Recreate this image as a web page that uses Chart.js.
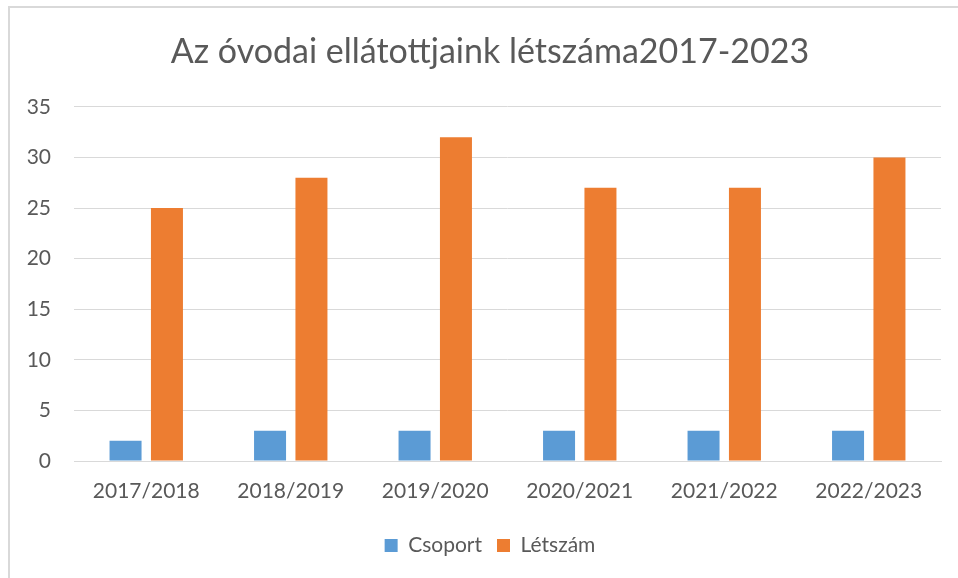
<!DOCTYPE html>
<html>
<head>
<meta charset="utf-8">
<script src="https://cdn.jsdelivr.net/npm/chart.js@4"></script>
<style>
  html, body { margin: 0; padding: 0; background: #fff; overflow: hidden; }
  #wrap { position: relative; width: 958px; height: 578px; }
  #frame { position: absolute; left: 8px; top: 6px; width: 1000px; height: 700px; border: 2px solid #d9d9d9; box-sizing: border-box; }
  canvas { position: absolute; left: 0; top: 0; }
</style>
</head>
<body>
<div id="wrap">
  <div id="frame"></div>
  <canvas id="chart" width="958" height="578"></canvas>
</div>
<script>
// --- Data ---
const chartTitle = 'Az óvodai ellátottjaink létszáma2017-2023';
const categories = ['2017/2018', '2018/2019', '2019/2020', '2020/2021', '2021/2022', '2022/2023'];
const csoport = [2, 3, 3, 3, 3, 3];
const letszam = [25, 28, 32, 27, 27, 30];
const yTicks = [0, 5, 10, 15, 20, 25, 30, 35];

const textColor = '#595959';
const gridColor = '#d9d9d9';
const fontFamily = 'Lato, "Open Sans", sans-serif';

Chart.defaults.font.family = fontFamily;
Chart.defaults.color = textColor;

// title is centred on the whole frame, so pad left and reserve the right gap with an empty axis
const padLeft = 22;
const plotLeft = 74;
const rightGap = 17;

new Chart(document.getElementById('chart'), {
    type: 'bar',
    data: {
        labels: categories,
        datasets: [
            { label: 'Csoport', data: csoport, backgroundColor: '#5B9BD5', borderWidth: 0 },
            { label: 'Létszám', data: letszam, backgroundColor: '#ED7D31', borderWidth: 0 }
        ]
    },
    options: {
        responsive: false,
        animation: false,
        categoryPercentage: 0.573,
        barPercentage: 0.773,
        layout: { padding: { left: padLeft, right: 0, top: 0, bottom: 12 } },
        plugins: {
            title: {
                display: true,
                text: chartTitle,
                color: textColor,
                font: { size: 34, weight: 'normal' },
                padding: { top: 32, bottom: 34 }
            },
            legend: {
                position: 'bottom',
                labels: { boxWidth: 13, boxHeight: 13, padding: 15, color: textColor, font: { size: 21 } }
            },
            tooltip: { enabled: false }
        },
        scales: {
            x: {
                grid: { display: false, drawTicks: false },
                border: { color: gridColor, width: 1 },
                ticks: { color: textColor, font: { size: 21 }, padding: 18 },
                afterFit: scale => { scale.height = 59; }
            },
            y: {
                min: 0,
                max: 35,
                afterBuildTicks: scale => { scale.ticks = yTicks.map(v => ({ value: v })); },
                grid: { color: gridColor, lineWidth: 1, drawTicks: false },
                border: { display: false },
                ticks: { color: textColor, font: { size: 21 }, padding: 23 },
                afterFit: scale => { scale.width = plotLeft - padLeft; }
            },
            gap: {
                position: 'right',
                min: 0,
                max: 35,
                grid: { display: false, drawTicks: false },
                border: { display: false },
                ticks: { display: false },
                afterFit: scale => { scale.width = rightGap; }
            }
        }
    }
});
</script>
</body>
</html>
